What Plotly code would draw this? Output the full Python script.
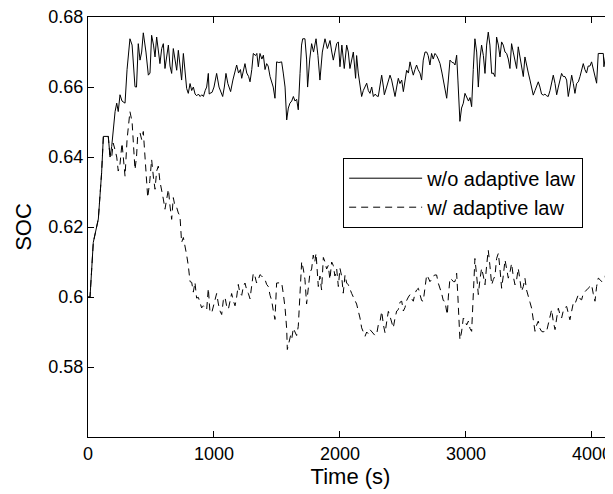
import plotly.graph_objects as go

# ---- data ----
t_wo = [0, 16, 42, 82, 108, 122, 161, 175, 188, 200, 215, 228, 240, 254, 270, 294, 310, 333, 350, 373,
        385, 399, 413, 426, 439, 460, 479, 492, 505, 520, 532, 545, 558, 571, 585, 598, 611, 625, 638, 651,
        664, 677, 690, 704, 717, 730, 743, 757, 770, 783, 796, 810, 823, 836, 850, 863, 876, 890, 903, 916,
        930, 942, 955, 962, 968, 985, 1000, 1021, 1040, 1069, 1082, 1095, 1110, 1132, 1150, 1165, 1180, 1195, 1210, 1220,
        1233, 1246, 1260, 1275, 1286, 1300, 1312, 1330, 1340, 1352, 1365, 1380, 1392, 1405, 1418, 1430, 1445, 1458, 1470, 1484,
        1497, 1515, 1537, 1550, 1564, 1577, 1590, 1603, 1617, 1630, 1643, 1656, 1669, 1683, 1695, 1704, 1722, 1735, 1743, 1760,
        1775, 1790, 1810, 1825, 1841, 1860, 1881, 1900, 1921, 1935, 1947, 1960, 1974, 1987, 2000, 2015, 2034, 2053, 2066, 2079,
        2093, 2106, 2124, 2132, 2145, 2159, 2172, 2185, 2199, 2212, 2225, 2238, 2252, 2265, 2280, 2290, 2304, 2318, 2331, 2345,
        2352, 2370, 2384, 2397, 2410, 2423, 2437, 2450, 2463, 2476, 2490, 2503, 2516, 2529, 2543, 2556, 2570, 2582, 2595, 2608,
        2620, 2635, 2648, 2661, 2675, 2688, 2700, 2714, 2727, 2740, 2754, 2767, 2780, 2794, 2810, 2820, 2833, 2847, 2860, 2873,
        2890, 2900, 2913, 2926, 2936, 2944, 2952, 2965, 2979, 2992, 3005, 3020, 3032, 3045, 3058, 3071, 3085, 3098, 3111, 3124,
        3138, 3151, 3164, 3177, 3190, 3204, 3217, 3230, 3243, 3257, 3270, 3283, 3296, 3310, 3323, 3336, 3349, 3362, 3375, 3389,
        3402, 3415, 3428, 3441, 3455, 3468, 3481, 3495, 3508, 3521, 3534, 3548, 3561, 3574, 3587, 3600, 3614, 3627, 3640, 3653,
        3667, 3680, 3693, 3707, 3720, 3733, 3746, 3759, 3772, 3786, 3799, 3812, 3825, 3839, 3852, 3865, 3878, 3892, 3905, 3918,
        3931, 3944, 3957, 3970, 3984, 3997, 4010, 4024, 4037, 4050, 4063, 4077, 4090, 4095, 4103, 4111]
soc_wo = [0.600, 0.600, 0.6156, 0.6223, 0.6355, 0.6459, 0.6459, 0.6400, 0.6430, 0.6480, 0.6530, 0.6554, 0.6530, 0.6578, 0.6560, 0.6554, 0.6650, 0.6738, 0.6720, 0.6601,
          0.6600, 0.6724, 0.6677, 0.6700, 0.6755, 0.6700, 0.6634, 0.6640, 0.6748, 0.6720, 0.6686, 0.6743, 0.6700, 0.6667, 0.6710, 0.6724, 0.6653, 0.6690, 0.6720, 0.6660,
          0.6639, 0.6710, 0.6680, 0.6648, 0.6705, 0.6670, 0.6620, 0.6696, 0.6640, 0.6596, 0.6582, 0.6610, 0.6590, 0.6600, 0.6580, 0.6575, 0.6580, 0.6573, 0.6578, 0.6573,
          0.6590, 0.6600, 0.6639, 0.6580, 0.6582, 0.6585, 0.6600, 0.6639, 0.6600, 0.6573, 0.6600, 0.6639, 0.6610, 0.6587, 0.6620, 0.6640, 0.6663, 0.6640, 0.6650, 0.6625,
          0.6650, 0.6667, 0.6640, 0.6630, 0.6615, 0.6650, 0.6696, 0.6690, 0.6696, 0.6658, 0.6696, 0.6680, 0.6691, 0.6650, 0.6667, 0.6660, 0.6630, 0.6611, 0.6600, 0.6568,
          0.6672, 0.6670, 0.6672, 0.6640, 0.6600, 0.6506, 0.6540, 0.6554, 0.6560, 0.6573, 0.6560, 0.6565, 0.6535, 0.6639, 0.6720, 0.6738, 0.6738, 0.6680, 0.6600, 0.6680,
          0.6724, 0.6700, 0.6738, 0.6690, 0.6620, 0.6700, 0.6738, 0.6710, 0.6733, 0.6700, 0.6677, 0.6700, 0.6724, 0.6729, 0.6658, 0.6720, 0.6653, 0.6720, 0.6700, 0.6653,
          0.6680, 0.6700, 0.6625, 0.6690, 0.6640, 0.6611, 0.6573, 0.6590, 0.6600, 0.6611, 0.6590, 0.6582, 0.6600, 0.6573, 0.6580, 0.6575, 0.6573, 0.6600, 0.6634, 0.6600,
          0.6578, 0.6600, 0.6620, 0.6634, 0.6620, 0.6600, 0.6573, 0.6600, 0.6625, 0.6610, 0.6620, 0.6587, 0.6620, 0.6648, 0.6640, 0.6672, 0.6650, 0.6634, 0.6650, 0.6663,
          0.6650, 0.6640, 0.6620, 0.6677, 0.6700, 0.6700, 0.6690, 0.6663, 0.6696, 0.6680, 0.6696, 0.6690, 0.6680, 0.6667, 0.6640, 0.6620, 0.6596, 0.6568, 0.6620, 0.6677,
          0.6670, 0.6670, 0.6663, 0.6691, 0.6620, 0.6554, 0.6502, 0.6540, 0.6554, 0.6582, 0.6573, 0.6560, 0.6570, 0.6544, 0.6650, 0.6738, 0.6700, 0.6600, 0.6680, 0.6720,
          0.6690, 0.6639, 0.6720, 0.6757, 0.6720, 0.6639, 0.6640, 0.6630, 0.6743, 0.6720, 0.6686, 0.6729, 0.6720, 0.6700, 0.6696, 0.6680, 0.6653, 0.6724, 0.6700, 0.6680,
          0.6653, 0.6715, 0.6690, 0.6660, 0.6630, 0.6686, 0.6660, 0.6640, 0.6620, 0.6600, 0.6577, 0.6590, 0.6600, 0.6615, 0.6600, 0.6580, 0.6577, 0.6580, 0.6575, 0.6573,
          0.6590, 0.6610, 0.6634, 0.6610, 0.6578, 0.6600, 0.6620, 0.6639, 0.6630, 0.6630, 0.6620, 0.6573, 0.6600, 0.6634, 0.6610, 0.6582, 0.6610, 0.6615, 0.6630, 0.6650,
          0.6667, 0.6650, 0.6640, 0.6660, 0.6660, 0.6672, 0.6650, 0.6630, 0.6611, 0.6696, 0.6696, 0.6696, 0.6696, 0.6658, 0.6680, 0.6696]

t_w = [0, 16, 42, 82, 108, 122, 161, 175, 188, 200, 215, 228, 240, 254, 270, 280, 294, 310, 333, 350,
       373, 385, 394, 413, 426, 439, 450, 458, 474, 490, 505, 520, 532, 545, 558, 571, 585, 598, 611, 625,
       638, 651, 664, 677, 690, 704, 717, 730, 743, 757, 770, 783, 796, 810, 823, 836, 849, 862, 876, 890,
       902, 916, 930, 942, 955, 968, 982, 995, 1008, 1021, 1035, 1048, 1061, 1074, 1087, 1100, 1114, 1127, 1140, 1153,
       1167, 1180, 1193, 1206, 1220, 1233, 1246, 1260, 1273, 1286, 1300, 1312, 1325, 1338, 1352, 1365, 1378, 1392, 1405, 1418,
       1431, 1445, 1458, 1471, 1484, 1497, 1510, 1524, 1537, 1550, 1564, 1577, 1582, 1595, 1608, 1617, 1630, 1643, 1656, 1669,
       1683, 1696, 1709, 1722, 1735, 1749, 1762, 1775, 1788, 1800, 1810, 1828, 1841, 1854, 1868, 1881, 1894, 1907, 1920, 1934,
       1947, 1960, 1974, 1987, 2000, 2013, 2026, 2040, 2053, 2066, 2079, 2093, 2106, 2119, 2132, 2146, 2159, 2172, 2185, 2199,
       2212, 2225, 2238, 2252, 2265, 2278, 2291, 2304, 2318, 2331, 2345, 2358, 2371, 2384, 2397, 2410, 2423, 2437, 2450, 2463,
       2476, 2490, 2503, 2516, 2529, 2543, 2556, 2569, 2582, 2595, 2608, 2622, 2635, 2648, 2661, 2675, 2688, 2701, 2714, 2727,
       2740, 2754, 2767, 2780, 2794, 2807, 2820, 2833, 2846, 2852, 2860, 2873, 2886, 2900, 2913, 2926, 2936, 2944, 2952, 2965,
       2979, 2992, 3005, 3019, 3032, 3045, 3058, 3071, 3085, 3098, 3111, 3124, 3138, 3151, 3164, 3177, 3190, 3204, 3217, 3230,
       3243, 3257, 3270, 3283, 3296, 3310, 3323, 3336, 3349, 3362, 3375, 3389, 3402, 3415, 3428, 3441, 3455, 3468, 3481, 3495,
       3508, 3521, 3534, 3548, 3561, 3574, 3587, 3600, 3614, 3627, 3640, 3653, 3667, 3680, 3693, 3707, 3720, 3733, 3746, 3759,
       3772, 3786, 3799, 3812, 3825, 3839, 3852, 3865, 3878, 3892, 3905, 3918, 3931, 3944, 3957, 3970, 3984, 3997, 4010, 4024,
       4037, 4050, 4063, 4077, 4090, 4103, 4111]
soc_w = [0.600, 0.600, 0.6156, 0.6223, 0.6355, 0.6459, 0.6459, 0.6400, 0.6400, 0.6440, 0.6420, 0.6400, 0.6360, 0.6380, 0.6440, 0.6400, 0.6345, 0.6450, 0.6530, 0.6500,
         0.6364, 0.6400, 0.6459, 0.6469, 0.6450, 0.6473, 0.6420, 0.6355, 0.6284, 0.6330, 0.6393, 0.6340, 0.6308, 0.6360, 0.6374, 0.6330, 0.6308, 0.6280, 0.6251, 0.6280,
         0.6308, 0.6260, 0.6222, 0.6284, 0.6260, 0.6256, 0.6240, 0.6232, 0.6156, 0.6170, 0.6147, 0.6120, 0.6090, 0.6044, 0.6042, 0.6014, 0.6042, 0.5997, 0.5999, 0.5980,
         0.5969, 0.5975, 0.5970, 0.5964, 0.6025, 0.5957, 0.5955, 0.5976, 0.5990, 0.6010, 0.5980, 0.5960, 0.5950, 0.5990, 0.6000, 0.5975, 0.5965, 0.5990, 0.6010, 0.5990,
         0.5975, 0.6000, 0.6036, 0.6010, 0.6005, 0.6030, 0.6040, 0.6020, 0.6010, 0.5995, 0.6040, 0.6068, 0.6060, 0.6040, 0.6050, 0.6064, 0.6060, 0.6055, 0.6050, 0.6036,
         0.6030, 0.6005, 0.5990, 0.5960, 0.5936, 0.6040, 0.6040, 0.6040, 0.6041, 0.6010, 0.5969, 0.5909, 0.5850, 0.5870, 0.5890, 0.5880, 0.5911, 0.5900, 0.5890, 0.5916,
         0.6002, 0.6101, 0.6080, 0.6050, 0.5980, 0.6040, 0.6070, 0.6080, 0.6120, 0.6100, 0.6125, 0.6030, 0.6060, 0.6020, 0.6113, 0.6100, 0.6080, 0.6090, 0.6050, 0.6100,
         0.6090, 0.6060, 0.6080, 0.6030, 0.6082, 0.6060, 0.6011, 0.6063, 0.6040, 0.6035, 0.6020, 0.6010, 0.6000, 0.5987, 0.5980, 0.5959, 0.5940, 0.5912, 0.5900, 0.5888,
         0.5900, 0.5895, 0.5907, 0.5900, 0.5895, 0.5890, 0.5893, 0.5920, 0.5930, 0.5959, 0.5920, 0.5897, 0.5930, 0.5959, 0.5945, 0.5930, 0.5912, 0.5940, 0.5960, 0.5964,
         0.5985, 0.5988, 0.5960, 0.5970, 0.5990, 0.6000, 0.6007, 0.5995, 0.5988, 0.6010, 0.6020, 0.6025, 0.6010, 0.5990, 0.5988, 0.6030, 0.6063, 0.6055, 0.6044, 0.6050,
         0.6060, 0.6063, 0.6063, 0.6040, 0.6025, 0.6010, 0.5990, 0.5988, 0.5960, 0.5949, 0.6000, 0.6054, 0.6050, 0.6044, 0.6044, 0.6068, 0.6000, 0.5912, 0.5878, 0.5900,
         0.5940, 0.5935, 0.5920, 0.5931, 0.5910, 0.5902, 0.6000, 0.6110, 0.6060, 0.6007, 0.6050, 0.6082, 0.6060, 0.6035, 0.6090, 0.6134, 0.6090, 0.6035, 0.6050, 0.6060,
         0.6110, 0.6125, 0.6080, 0.6025, 0.6060, 0.6106, 0.6080, 0.6054, 0.6070, 0.6096, 0.6060, 0.6035, 0.6050, 0.6082, 0.6050, 0.6016, 0.6030, 0.6054, 0.6020, 0.5997,
         0.5985, 0.5968, 0.5930, 0.5902, 0.5920, 0.5931, 0.5910, 0.5902, 0.5900, 0.5905, 0.5902, 0.5920, 0.5940, 0.5964, 0.5930, 0.5907, 0.5940, 0.5968, 0.5950, 0.5940,
         0.5960, 0.5970, 0.5973, 0.5950, 0.5935, 0.5960, 0.5983, 0.5980, 0.5995, 0.6007, 0.5995, 0.5992, 0.6010, 0.6016, 0.6020, 0.6025, 0.6030, 0.6035, 0.6010, 0.5988,
         0.6030, 0.6054, 0.6050, 0.6044, 0.6050, 0.6055, 0.6068]

x_ticks = [0, 1000, 2000, 3000, 4000]
y_ticks = [0.58, 0.60, 0.62, 0.64, 0.66, 0.68]
y_ticktext = ["0.58", "0.6", "0.62", "0.64", "0.66", "0.68"]
names = ["w/o adaptive law", "w/ adaptive law"]

FONT = "Arial, Liberation Sans, Helvetica, sans-serif"

fig = go.Figure()
fig.add_trace(go.Scatter(x=t_wo, y=soc_wo, mode="lines", name=names[0],
                         line=dict(color="black", width=1)))
fig.add_trace(go.Scatter(x=t_w, y=soc_w, mode="lines", name=names[1],
                         line=dict(color="black", width=1, dash="7px,5px")))
# invisible trace on a right-side axis so that the right ticks are drawn
fig.add_trace(go.Scatter(x=[0], y=[0.6], yaxis="y2", mode="markers",
                         marker=dict(opacity=0), showlegend=False, hoverinfo="skip"))

Y_RANGE = [0.56, 0.68002]

# the page body has an 8px margin, so the figure is 8px smaller on each side
fig.update_layout(
    width=605, height=486,
    margin=dict(l=80, r=0, t=9, b=57),
    paper_bgcolor="white", plot_bgcolor="white",
    font=dict(family=FONT, size=18, color="black"),
    showlegend=True,
    legend=dict(x=0.486, y=0.665, xanchor="left", yanchor="top",
                bgcolor="white", bordercolor="black", borderwidth=1,
                font=dict(size=20), itemwidth=73, tracegroupgap=0),
    xaxis=dict(range=[0, 4167], tickvals=x_ticks, ticks="inside", ticklen=6,
               tickcolor="black", showline=True, linecolor="black", linewidth=1,
               mirror="ticks", showgrid=False, zeroline=False, automargin=False,
               ticklabeloverflow="allow",
               title=dict(text="Time (s)", standoff=0),
               tickfont=dict(size=18)),
    yaxis=dict(range=Y_RANGE, tickvals=y_ticks, ticktext=y_ticktext,
               ticks="inside", ticklen=6, tickcolor="black", showline=True,
               linecolor="black", linewidth=1, mirror=False, showgrid=False,
               zeroline=False, automargin=False, ticklabeloverflow="allow",
               title=dict(text="SOC", standoff=10),
               tickfont=dict(size=18)),
    yaxis2=dict(range=Y_RANGE, tickvals=y_ticks, overlaying="y", side="right",
                ticks="inside", ticklen=6, tickcolor="black", showticklabels=False,
                showline=False, showgrid=False, zeroline=False, automargin=False),
)

fig.write_html("out.html")
